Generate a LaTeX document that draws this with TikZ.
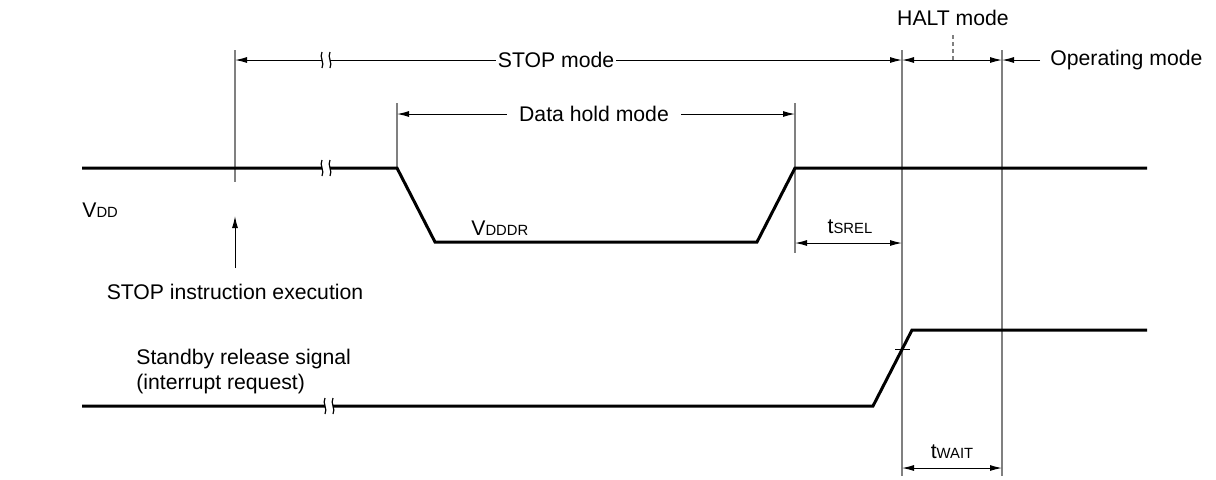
\documentclass[tikz,border=0pt]{standalone}
\usepackage{fontspec}
\setmainfont{Liberation Sans}
\usetikzlibrary{arrows.meta}
\newcommand\smallsub[1]{{\fontsize{7.4}{8}\selectfont #1}}
\begin{document}
\begin{tikzpicture}[x=0.5pt,y=-0.5pt,
  sig/.style={line width=1.5pt, line join=miter},
  guide/.style={gray, line width=0.7pt},
  dimline/.style={line width=0.5pt},
  tip/.style={-{Latex[length=6pt,width=3pt]}},
  tips/.style={{Latex[length=6pt,width=3pt]}-{Latex[length=6pt,width=3pt]}},
  lbl/.style={font=\fontsize{10.6}{12.5}\selectfont, inner sep=1pt},
  brkmark/.pic={
    \fill[white] (-4,-8) rectangle (4,8);
    \draw[line width=0.6pt] (-4,-8) .. controls (-7,-3) and (-1,3) .. (-4,8);
    \draw[line width=0.6pt] (4,-8) .. controls (1,-3) and (7,3) .. (4,8);
  }]
\useasboundingbox (0,0) rectangle (1216,479);

% coordinates
\coordinate (gA1) at (235,50);  \coordinate (gA2) at (235,182);
\coordinate (gB1) at (397,103); \coordinate (gB2) at (397,168);
\coordinate (gC1) at (795,103); \coordinate (gC2) at (795,253);
\coordinate (gD1) at (902,50);  \coordinate (gD2) at (902,476);
\coordinate (gE1) at (1002,50); \coordinate (gE2) at (1002,476);

% guide lines
\draw[guide] (gA1) -- (gA2);
\draw[guide] (gB1) -- (gB2);
\draw[guide] (gC1) -- (gC2);
\draw[guide] (gD1) -- (gD2);
\draw[guide] (gE1) -- (gE2);

% STOP mode
\coordinate (stopL) at (235,60);
\coordinate (stopR) at (902,60);
\draw[dimline,tips] (stopL) -- (stopR);
\node[lbl,fill=white] (stop) at (556,60) {STOP mode};
\pic at (326,60) {brkmark};

% HALT mode
\coordinate (haltL) at (902,60);
\coordinate (haltR) at (1002,60);
\draw[dimline,tips] (haltL) -- (haltR);
\node[lbl] (halt) at (953,18) {HALT mode};
\coordinate (haltD1) at (953,35);
\coordinate (haltD2) at (953,60);
\draw[gray,line width=0.6pt,dash pattern=on 2pt off 1.5pt] (haltD1) -- (haltD2);

% Operating mode
\node[lbl,anchor=west] (oper) at (1048,60) {Operating mode};
\coordinate (operS) at (1040,60);
\draw[dimline,tip] (operS) -- (haltR);

% Data hold mode
\coordinate (dhL) at (397,114);
\coordinate (dhR) at (795,114);
\draw[dimline,tips] (dhL) -- (dhR);
\node[lbl,fill=white,inner sep=6pt] (dh) at (594,114) {Data hold mode};

% VDD signal
\coordinate (v0) at (82,168);
\coordinate (v1) at (397,168);
\coordinate (v2) at (435,242);
\coordinate (v3) at (757,242);
\coordinate (v4) at (795,168);
\coordinate (v5) at (1147,168);
\draw[sig] (v0) -- (v1) -- (v2) -- (v3) -- (v4) -- (v5);
\pic at (326,168) {brkmark};

\node[lbl,anchor=west] (vdd) at (80,210) {V\smallsub{DD}};
\node[lbl,anchor=west] (vdddr) at (469,228) {V\smallsub{DDDR}};

% tSREL
\coordinate (srL) at (795,243);
\coordinate (srR) at (902,243);
\draw[dimline,tips] (srL) -- (srR);
\node[lbl] (tsrel) at (850,227) {t\smallsub{SREL}};

% STOP instruction execution
\coordinate (siS) at (235,268);
\coordinate (siE) at (235,216);
\draw[dimline,tip] (siS) -- (siE);
\node[lbl] (stopinst) at (235,292) {STOP instruction execution};

% Standby release signal
\coordinate (s0) at (82,406);
\coordinate (s1) at (873,406);
\coordinate (s2) at (912,330);
\coordinate (s3) at (1147,330);
\draw[sig] (s0) -- (s1) -- (s2) -- (s3);
\pic at (329,406) {brkmark};
\coordinate (tk1) at (895,349);
\coordinate (tk2) at (910,349);
\draw[line width=0.5pt] (tk1) -- (tk2);
\node[lbl,anchor=west,align=left] (sbr) at (134,372) {Standby release signal\\(interrupt request)};

% tWAIT
\coordinate (twL) at (902,468);
\coordinate (twR) at (1002,468);
\draw[dimline,tips] (twL) -- (twR);
\node[lbl] (twait) at (952,452) {t\smallsub{WAIT}};
\end{tikzpicture}
\end{document}
